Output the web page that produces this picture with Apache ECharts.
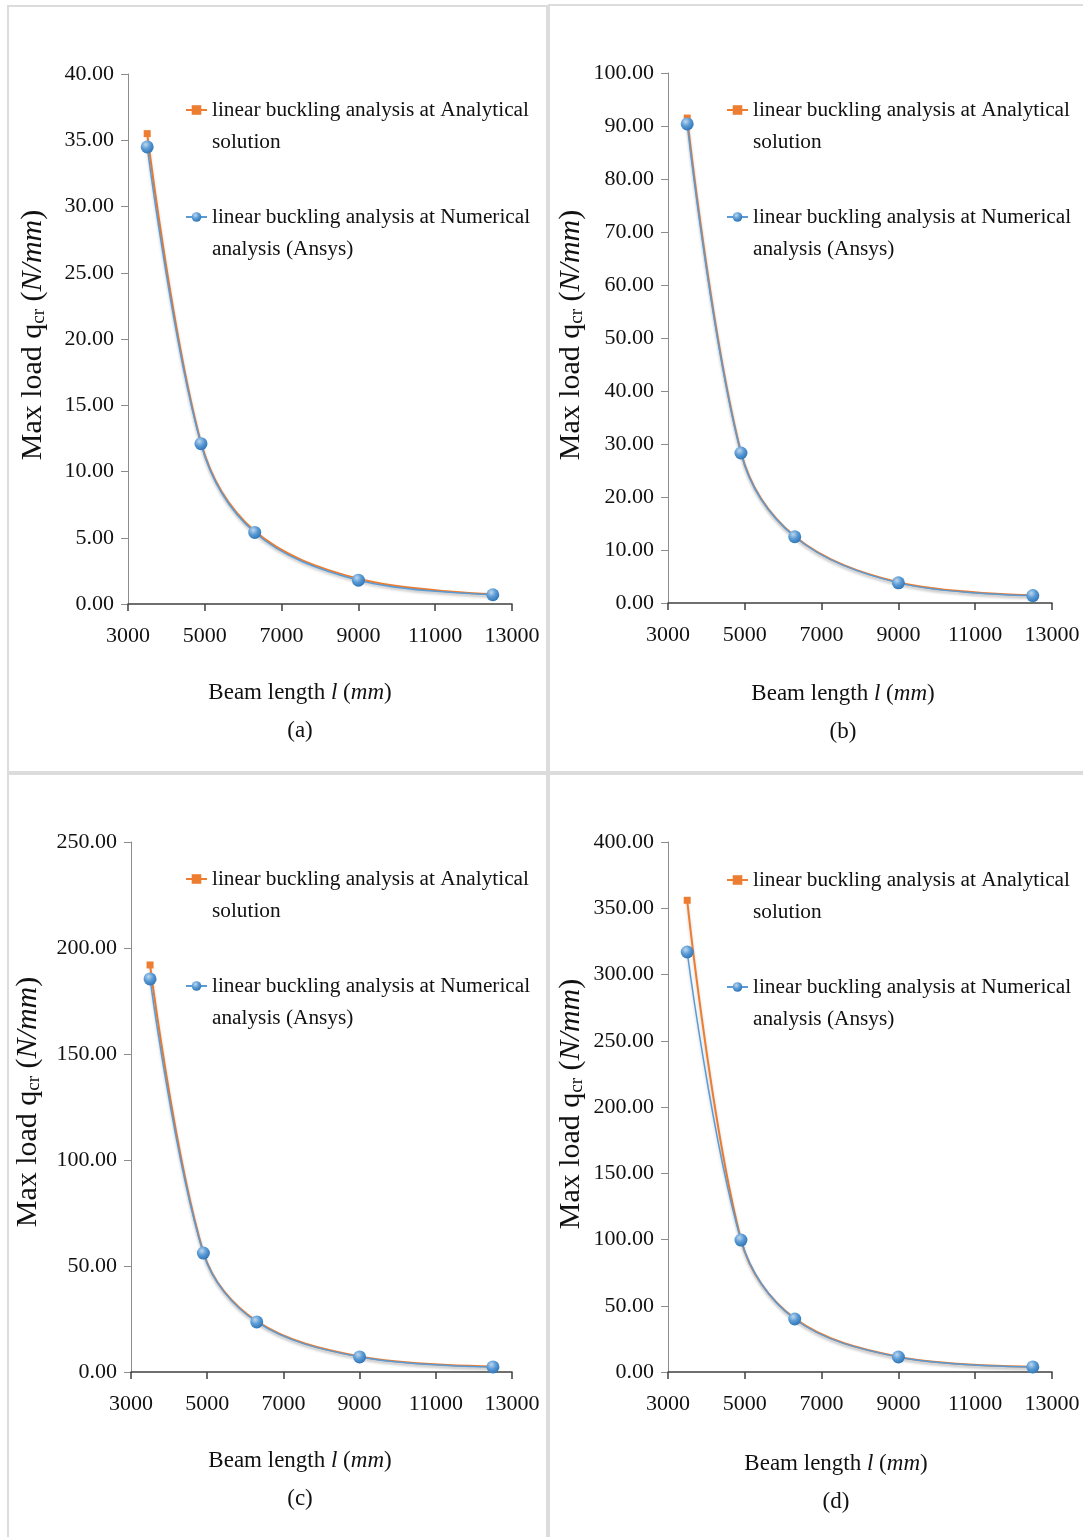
<!DOCTYPE html>
<html>
<head>
<meta charset="utf-8">
<script src="https://cdn.jsdelivr.net/npm/echarts@6/dist/echarts.min.js"></script>
<style>
  html, body { margin: 0; padding: 0; background: #fff; }
  body { width: 1083px; height: 1537px; position: relative; overflow: hidden; }
  .panel { position: absolute; border: 2px solid #dcdcdc; box-sizing: border-box; }
  .panel div.chart { width: 100%; height: 100%; }
</style>
</head>
<body>
<div class="panel" style="left:7px;top:5px;width:541px;height:768px"><div class="chart" id="pa"></div></div>
<div class="panel" style="left:548px;top:4px;width:545px;height:769px"><div class="chart" id="pb"></div></div>
<div class="panel" style="left:7px;top:773px;width:541px;height:775px"><div class="chart" id="pc"></div></div>
<div class="panel" style="left:548px;top:773px;width:545px;height:775px"><div class="chart" id="pd"></div></div>
<script>
// beam lengths (mm)
const beamLength = [3500, 4900, 6300, 9000, 12500];

// max load qcr (N/mm)
const analyticalA = [35.5, 12.2, 5.5, 1.9, 0.75];
const numericalA = [34.5, 12.1, 5.4, 1.8, 0.7];
const analyticalB = [91.5, 28.5, 12.6, 3.9, 1.5];
const numericalB = [90.4, 28.3, 12.5, 3.8, 1.4];
const analyticalC = [192, 56.5, 24, 7.3, 2.6];
const numericalC = [185.4, 56.1, 23.6, 7.1, 2.4];
const analyticalD = [356, 100, 40.5, 11.5, 4];
const numericalD = [317, 99.6, 40, 11.3, 3.8];

// y axis max / step for (a) (b) (c) (d)
const yMax = [40, 100, 250, 400];
const yStep = [5, 10, 50, 50];
const panelNames = ['(a)', '(b)', '(c)', '(d)'];

const serif = 'Liberation Serif, Times New Roman, serif';
const orange = '#ED7D31';
const blue = '#5B9BD5';

function pairs(ys) {
  return beamLength.map((x, i) => [x, ys[i]]);
}

function makeChart(id, idx, analytical, numerical, g) {
  const chart = echarts.init(document.getElementById(id));
  chart.setOption({
    animation: false,
    textStyle: { fontFamily: serif },
    grid: { left: g.left, top: g.top, width: g.width, height: 530 },
    legend: {
      left: g.legendLeft,
      top: g.legendTop,
      orient: 'vertical',
      padding: 0,
      itemGap: 11,
      itemWidth: 21,
      itemHeight: 12,
      textStyle: { fontFamily: serif, fontSize: 21.3, color: '#111', lineHeight: 32 },
      // leading blank line keeps the first text line level with the icon
      formatter: function (name) { return '\n' + name; },
      data: ['linear buckling analysis at Analytical\nsolution', 'linear buckling analysis at Numerical\nanalysis (Ansys)']
    },
    xAxis: {
      type: 'value',
      min: 3000,
      max: 13000,
      interval: 2000,
      splitLine: { show: false },
      axisLine: { lineStyle: { color: '#404040', width: 1.5 } },
      axisTick: { inside: false, length: 7, lineStyle: { color: '#404040', width: 1.5 } },
      axisLabel: {
        fontFamily: serif, fontSize: 22, color: '#111', margin: 21,
        formatter: function (v) { return String(v); }
      }
    },
    yAxis: {
      type: 'value',
      min: 0,
      max: yMax[idx],
      interval: yStep[idx],
      splitLine: { show: false },
      axisLine: { show: true, lineStyle: { color: '#8c8c8c', width: 1 } },
      axisTick: { show: true, length: 7, lineStyle: { color: '#8c8c8c' } },
      axisLabel: {
        fontFamily: serif, fontSize: 22, color: '#111', margin: 14,
        formatter: function (v) { return v.toFixed(2); }
      }
    },
    graphic: [
      {
        type: 'text', x: g.nameX, y: g.nameY,
        style: {
          text: 'Beam length {i|l} ({i|mm})',
          font: '23px ' + serif, fill: '#111', align: 'center', verticalAlign: 'middle',
          rich: { i: { fontStyle: 'italic', fontSize: 23, fontFamily: serif } }
        }
      },
      {
        type: 'text', x: g.nameX, y: g.nameY + 38,
        style: { text: panelNames[idx], font: '23px ' + serif, fill: '#111', align: 'center', verticalAlign: 'middle' }
      },
      {
        type: 'text', x: g.yNameX, y: g.yNameY, rotation: Math.PI / 2,
        style: {
          text: '{t|Max load q}{s|cr}{t| (}{it|N/mm}{t|)}',
          fill: '#111', align: 'center', verticalAlign: 'middle',
          rich: {
            t: { fontSize: 30, fontFamily: serif, lineHeight: 32, verticalAlign: 'middle' },
            s: { fontSize: 19, fontFamily: serif, lineHeight: 13, verticalAlign: 'bottom' },
            it: { fontSize: 30, fontFamily: serif, fontStyle: 'italic', lineHeight: 32, verticalAlign: 'middle' }
          }
        }
      }
    ],
    series: [
      {
        name: 'linear buckling analysis at Analytical\nsolution',
        type: 'line',
        smooth: 0.35,
        data: pairs(analytical),
        symbol: 'rect',
        symbolSize: 7,
        itemStyle: { color: orange },
        lineStyle: { color: orange, width: 2, shadowColor: 'rgba(0,0,0,0.2)', shadowBlur: 3, shadowOffsetY: 2 },
        z: 2
      },
      {
        name: 'linear buckling analysis at Numerical\nanalysis (Ansys)',
        type: 'line',
        smooth: 0.35,
        data: pairs(numerical),
        symbol: 'circle',
        symbolSize: 13,
        itemStyle: {
          color: {
            type: 'radial', x: 0.38, y: 0.32, r: 0.7,
            colorStops: [{ offset: 0, color: '#BDD7EE' }, { offset: 0.5, color: '#5B9BD5' }, { offset: 1, color: '#2E75B6' }]
          }
        },
        lineStyle: { color: blue, width: 1.5, shadowColor: 'rgba(0,0,0,0.2)', shadowBlur: 3, shadowOffsetY: 2 },
        z: 3
      }
    ]
  });
}

// panel content origins: a (9,7), b (550,6), c (9,775), d (550,775)
makeChart('pa', 0, analyticalA, numericalA,
  { left: 119, top: 67, width: 384, legendLeft: 176, legendTop: 55, nameX: 291, nameY: 686, yNameX: 24, yNameY: 328 });
makeChart('pb', 1, analyticalB, numericalB,
  { left: 118, top: 67, width: 384, legendLeft: 176, legendTop: 56, nameX: 293, nameY: 688, yNameX: 21, yNameY: 329 });
makeChart('pc', 2, analyticalC, numericalC,
  { left: 122, top: 67, width: 381, legendLeft: 176, legendTop: 56, nameX: 291, nameY: 686, yNameX: 19, yNameY: 327 });
makeChart('pd', 3, analyticalD, numericalD,
  { left: 118, top: 67, width: 384, legendLeft: 176, legendTop: 57, nameX: 286, nameY: 689, yNameX: 21, yNameY: 329 });
</script>
</body>
</html>
